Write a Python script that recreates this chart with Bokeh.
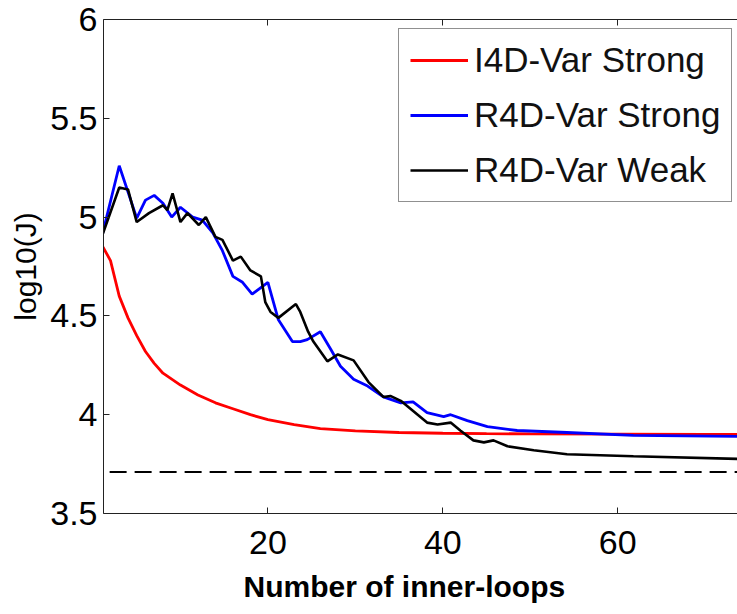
from bokeh.plotting import figure
from bokeh.models import (LinearAxis, FixedTicker, CustomJSTickFormatter, Legend,
                          LegendItem, Range1d, Title)
from bokeh.embed import file_html
from bokeh.resources import INLINE

# ---- data ----
red_x = [1, 2, 3, 4, 5, 6, 7, 8, 9, 10, 12, 14, 16, 18, 20, 23, 26, 30, 35, 40, 45, 50, 60, 70, 75]
red_y = [4.86, 4.78, 4.60, 4.49, 4.40, 4.32, 4.26, 4.21, 4.18, 4.15, 4.10, 4.06, 4.03, 4.00,
         3.975, 3.95, 3.93, 3.918, 3.91, 3.906, 3.904, 3.903, 3.902, 3.90, 3.90]

blue_x = [1, 3, 5, 6, 7, 8, 9, 10, 11.4, 12.5, 13.7, 14.8, 16, 17.1, 18.2, 20, 21.2, 22.8,
          23.7, 24.5, 26, 27.2, 28.3, 29.8, 31.4, 33.2, 35.2, 36.6, 38.2, 40.1, 40.9, 42.8,
          45.1, 48.5, 54.2, 61.8, 75]
blue_y = [4.90, 5.26, 4.995, 5.086, 5.11, 5.07, 5.0, 5.05, 5.0, 4.985, 4.92, 4.83, 4.70,
          4.67, 4.61, 4.67, 4.48, 4.37, 4.37, 4.38, 4.42, 4.33, 4.245, 4.18, 4.145, 4.09,
          4.06, 4.065, 4.01, 3.99, 4.0, 3.97, 3.94, 3.92, 3.91, 3.895, 3.89]

black_x = [1, 3, 4, 5, 6.4, 8.0, 8.5, 9.1, 10.0, 10.8, 12.1, 12.9, 14.0, 14.8, 16.0, 16.9,
           18.0, 19.2, 19.7, 20.3, 21.2, 23.2, 23.7, 24.6, 25.2, 26.8, 28.0, 29.8, 31.5,
           33.2, 34.0, 35.2, 36.3, 38.2, 39.4, 40.9, 42.0, 43.5, 44.7, 45.8, 47.4, 50.4,
           54.2, 61.8, 75]
black_y = [4.90, 5.15, 5.14, 4.975, 5.02, 5.06, 5.035, 5.12, 4.975, 5.02, 4.96, 5.0, 4.90,
           4.885, 4.78, 4.80, 4.73, 4.70, 4.57, 4.52, 4.49, 4.56, 4.52, 4.42, 4.37, 4.27,
           4.305, 4.275, 4.165, 4.09, 4.095, 4.07, 4.03, 3.96, 3.95, 3.96, 3.92, 3.87, 3.86,
           3.87, 3.84, 3.82, 3.80, 3.79, 3.775]

bound_x = [1.9, 75]
bound_y = [3.71, 3.71]

x_ticks = [20, 40, 60]
y_ticks = [3.5, 4, 4.5, 5, 5.5, 6]
series_names = ["I4D-Var Strong", "R4D-Var Strong", "R4D-Var Weak"]
x_title = "Number of inner-loops"
y_title = "log10(J)"

FONT = "Liberation Sans"

p = figure(width=737, height=613, x_range=Range1d(1.2, 73.7), y_range=Range1d(3.5, 6),
           output_backend="svg", toolbar_location=None,
           min_border_left=103, min_border_right=0, min_border_top=19, min_border_bottom=98)
p.outline_line_color = None
p.xgrid.visible = False
p.ygrid.visible = False
p.background_fill_color = "white"

fmt = CustomJSTickFormatter(code="return tick.toString();")

xa = p.xaxis[0]
xa.ticker = FixedTicker(ticks=x_ticks)
xa.formatter = fmt
xa.major_label_text_font = FONT
xa.major_label_text_font_size = "34px"
xa.major_label_text_color = "black"
xa.major_label_standoff = 17

ya = p.yaxis[0]
ya.ticker = FixedTicker(ticks=y_ticks)
ya.formatter = fmt
ya.axis_label = y_title
ya.axis_label_text_font = FONT
ya.axis_label_text_font_style = "normal"
ya.axis_label_text_font_size = "30px"
ya.axis_label_text_color = "black"
ya.axis_label_standoff = 5
ya.major_label_text_font = FONT
ya.major_label_text_font_size = "34px"
ya.major_label_text_color = "black"
ya.major_label_standoff = 6

for ax in (xa, ya):
    ax.major_tick_in = 6
    ax.major_tick_out = 0
    ax.minor_tick_line_color = None
    ax.axis_line_color = "#222222"
    ax.major_tick_line_color = "#222222"

top = LinearAxis(ticker=FixedTicker(ticks=x_ticks), major_label_text_font_size="0px",
                 major_label_standoff=0, major_tick_in=6, major_tick_out=0,
                 minor_tick_line_color=None, axis_line_color="#222222",
                 major_tick_line_color="#222222")
p.add_layout(top, "above")

xt = Title(text=x_title, align="left", offset=140, standoff=22,
           text_font=FONT, text_font_style="bold", text_font_size="30px",
           text_color="black")
p.add_layout(xt, "below")

r_red = p.line(red_x, red_y, line_color="#ff0000", line_width=2.8)
r_blue = p.line(blue_x, blue_y, line_color="#0000ff", line_width=2.8)
r_black = p.line(black_x, black_y, line_color="#000000", line_width=2.6)
p.line(bound_x, bound_y, line_color="#000000", line_width=2, line_dash="17 8")

legend = Legend(items=[LegendItem(label=series_names[0], renderers=[r_red]),
                       LegendItem(label=series_names[1], renderers=[r_blue]),
                       LegendItem(label=series_names[2], renderers=[r_black])],
                location=(295, 311))
legend.label_text_font = FONT
legend.label_text_font_size = "35px"
legend.label_text_color = "#111111"
legend.glyph_width = 58
legend.glyph_height = 20
legend.label_standoff = 6
legend.padding = 11
legend.spacing = 15
legend.margin = 0
legend.border_line_color = "#222222"
legend.border_line_width = 1
legend.background_fill_alpha = 1.0
p.add_layout(legend, "center")

open("out.html", "w").write(file_html(p, INLINE))
